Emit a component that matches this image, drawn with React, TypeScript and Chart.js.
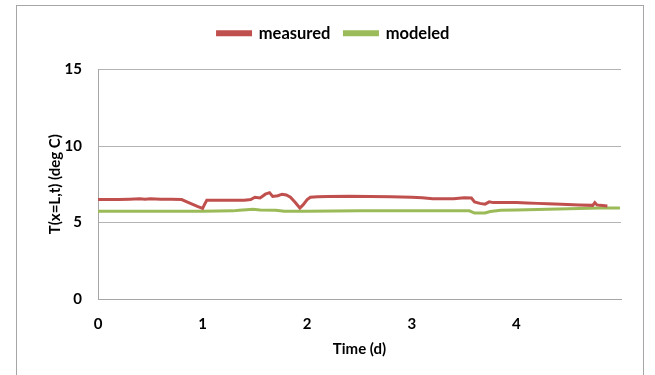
import React, { useEffect, useRef } from "react";
import { Chart, registerables } from "chart.js";

Chart.register(...registerables);

const measuredTime = [0, 0.1, 0.2, 0.3, 0.4, 0.45, 0.5, 0.6, 0.7, 0.8, 0.85, 0.9, 0.95, 1.0, 1.02, 1.04, 1.1, 1.2, 1.3, 1.4, 1.46, 1.5, 1.55, 1.6, 1.64, 1.67, 1.72, 1.76, 1.8, 1.84, 1.88, 1.93, 1.96, 2.0, 2.03, 2.1, 2.2, 2.4, 2.6, 2.8, 3.0, 3.1, 3.2, 3.3, 3.4, 3.5, 3.57, 3.6, 3.65, 3.7, 3.74, 3.78, 3.9, 4.0, 4.1, 4.2, 4.3, 4.43, 4.6, 4.73, 4.75, 4.77, 4.8, 4.87];
const measuredTemp = [6.5, 6.5, 6.5, 6.52, 6.55, 6.52, 6.55, 6.52, 6.52, 6.5, 6.35, 6.2, 6.05, 5.92, 6.2, 6.45, 6.45, 6.45, 6.45, 6.45, 6.5, 6.65, 6.6, 6.85, 6.95, 6.7, 6.75, 6.85, 6.8, 6.65, 6.35, 5.95, 6.15, 6.5, 6.65, 6.68, 6.7, 6.72, 6.7, 6.68, 6.65, 6.62, 6.55, 6.55, 6.55, 6.62, 6.6, 6.35, 6.25, 6.2, 6.35, 6.3, 6.3, 6.3, 6.28, 6.25, 6.22, 6.2, 6.15, 6.12, 6.3, 6.15, 6.12, 6.08];

const modeledTime = [0, 0.5, 1.0, 1.29, 1.35, 1.42, 1.48, 1.55, 1.7, 1.78, 2.0, 2.5, 3.0, 3.55, 3.6, 3.7, 3.75, 3.85, 4.0, 4.2, 4.4, 4.6, 4.8, 4.99];
const modeledTemp = [5.74, 5.74, 5.74, 5.76, 5.8, 5.84, 5.86, 5.82, 5.8, 5.74, 5.74, 5.76, 5.76, 5.76, 5.62, 5.62, 5.72, 5.8, 5.82, 5.85, 5.88, 5.92, 5.94, 5.95];

const xTicks = [0, 1, 2, 3, 4];
const yTicks = [0, 5, 10, 15];

const seriesNames = ["measured", "modeled"];
const seriesColors = ["#C0504D", "#9BBB59"];

const FONT = "Lato, 'Liberation Sans', sans-serif";

const framePlugin = {
  id: "frame",
  afterInit(chart: any) {
    const l = chart.legend;
    if (l && !l.__patched) {
      const orig = l.fit.bind(l);
      l.fit = function () {
        orig();
        this.height += 18;
      };
      l.__patched = true;
    }
  },
  beforeDraw(chart: any) {
    const ctx = chart.ctx;
    ctx.save();
    ctx.fillStyle = "#ffffff";
    ctx.fillRect(0, 0, chart.width, chart.height);
    ctx.strokeStyle = "#A6A6A6";
    ctx.lineWidth = 1;
    ctx.strokeRect(16.5, 5.5, 627, 380);
    ctx.restore();
  },
};

export default function App() {
  const ref = useRef<HTMLCanvasElement>(null);
  useEffect(() => {
    document.body.style.margin = "0";
    const chart = new Chart(ref.current!, {
      type: "line",
      data: {
        datasets: [
          {
            label: seriesNames[0],
            data: measuredTime.map((t, i) => ({ x: t, y: measuredTemp[i] })),
            borderColor: seriesColors[0],
            backgroundColor: seriesColors[0],
            borderWidth: 3,
            pointRadius: 0,
            tension: 0,
          },
          {
            label: seriesNames[1],
            data: modeledTime.map((t, i) => ({ x: t, y: modeledTemp[i] })),
            borderColor: seriesColors[1],
            backgroundColor: seriesColors[1],
            borderWidth: 3,
            pointRadius: 0,
            tension: 0,
          },
        ],
      },
      plugins: [framePlugin],
      options: {
        animation: false,
        responsive: false,
        layout: { padding: { left: 46, right: 34, top: 11, bottom: 17 } },
        plugins: {
          tooltip: { enabled: false },
          legend: {
            position: "top",
            align: "center",
            labels: {
              boxWidth: 33,
              boxHeight: 3,
              color: "#000",
              font: { family: FONT, size: 16.5, weight: "bold" },
              padding: 14,
            },
          },
        },
        scales: {
          x: {
            type: "linear",
            min: 0,
            max: 5,
            afterBuildTicks(axis: any) {
              axis.ticks = xTicks.map((v) => ({ value: v }));
            },
            grid: { display: false, drawTicks: false },
            border: { display: true, color: "#A6A6A6", width: 1 },
            ticks: {
              color: "#000",
              font: { family: FONT, size: 15, weight: "bold" },
              padding: 16,
              maxRotation: 0,
            },
            title: {
              display: true,
              text: "Time (d)",
              color: "#000",
              font: { family: FONT, size: 15, weight: "bold" },
              padding: { top: -9, bottom: 0 },
            },
          },
          y: {
            type: "linear",
            min: 0,
            max: 15,
            afterBuildTicks(axis: any) {
              axis.ticks = yTicks.map((v) => ({ value: v }));
            },
            afterFit(axis: any) {
              axis.width = 52;
            },
            grid: { color: "#B3B3B3", drawTicks: false, lineWidth: 1 },
            border: { display: true, color: "#A6A6A6", width: 1 },
            ticks: {
              color: "#000",
              font: { family: FONT, size: 15, weight: "bold" },
              padding: 16,
            },
            title: {
              display: true,
              text: "T(x=L,t) (deg C)",
              color: "#000",
              font: { family: FONT, size: 15, weight: "bold" },
              padding: { top: 0, bottom: 4 },
            },
          },
        },
      },
    } as any);
    return () => chart.destroy();
  }, []);
  return (
    <div style={{ position: "absolute", left: 0, top: 0, width: 655, height: 375 }}>
      <canvas ref={ref} width={655} height={375} />
    </div>
  );
}
